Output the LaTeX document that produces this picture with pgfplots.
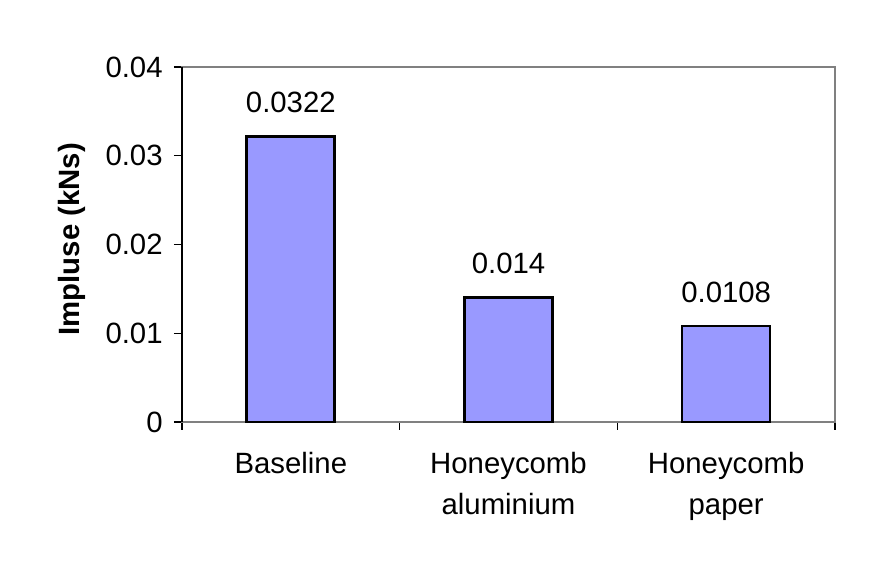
\documentclass[border=0pt]{standalone}
\usepackage{fontspec}
\setmainfont{Liberation Sans}
\usepackage{pgfplots}
\pgfplotsset{compat=1.18}
\definecolor{barblue}{HTML}{9999FF}
\definecolor{framegray}{HTML}{808080}
\begin{document}
\begin{tikzpicture}[x=0.75pt,y=0.75pt]
\path[use as bounding box] (-182,-149) rectangle (694,422);
\begin{axis}[
  at={(0,0)}, anchor=south west,
  scale only axis, width=489.75pt, height=266.25pt,
  xmin=-0.5, xmax=2.5, ymin=0, ymax=0.04,
  axis line style={framegray, line width=1.8pt},
  font=\fontsize{22}{30.75}\selectfont,
  /pgf/number format/assume math mode=true,
  tick align=outside, tick pos=left,
  major tick length=6pt,
  tick style={black, line width=0.8pt},
  ytick={0,0.01,0.02,0.03,0.04},
  yticklabels={0,0.01,0.02,0.03,0.04},
  yticklabel style={xshift=-5pt},
  scaled y ticks=false,
  xtick={-0.5,0.5,1.5,2.5},
  xticklabels={},
  extra x ticks={0,1,2},
  extra x tick labels={Baseline,Honeycomb\\aluminium,Honeycomb\\paper},
  extra x tick style={major tick length=0pt, tick style={draw=none},
     xticklabel style={align=center, yshift=-19pt}},
  ylabel={\bfseries Impluse (kNs)},
  y label style={at={(axis description cs:-0.169,0.515)}, anchor=center},
  nodes near coords,
  point meta=explicit symbolic,
  nodes near coords style={anchor=south, yshift=13.5pt, black},
  clip=false,
]
\addplot[ybar, bar width=66pt, fill=barblue, draw=black, line width=2pt]
  table[meta=lab] {
x y lab
0 0.0322 0.0322
1 0.014 0.014
2 0.0108 0.0108
};
\draw[black, line width=0.8pt] (rel axis cs:0,0) -- (rel axis cs:0,1);
\end{axis}
\end{tikzpicture}
\end{document}
